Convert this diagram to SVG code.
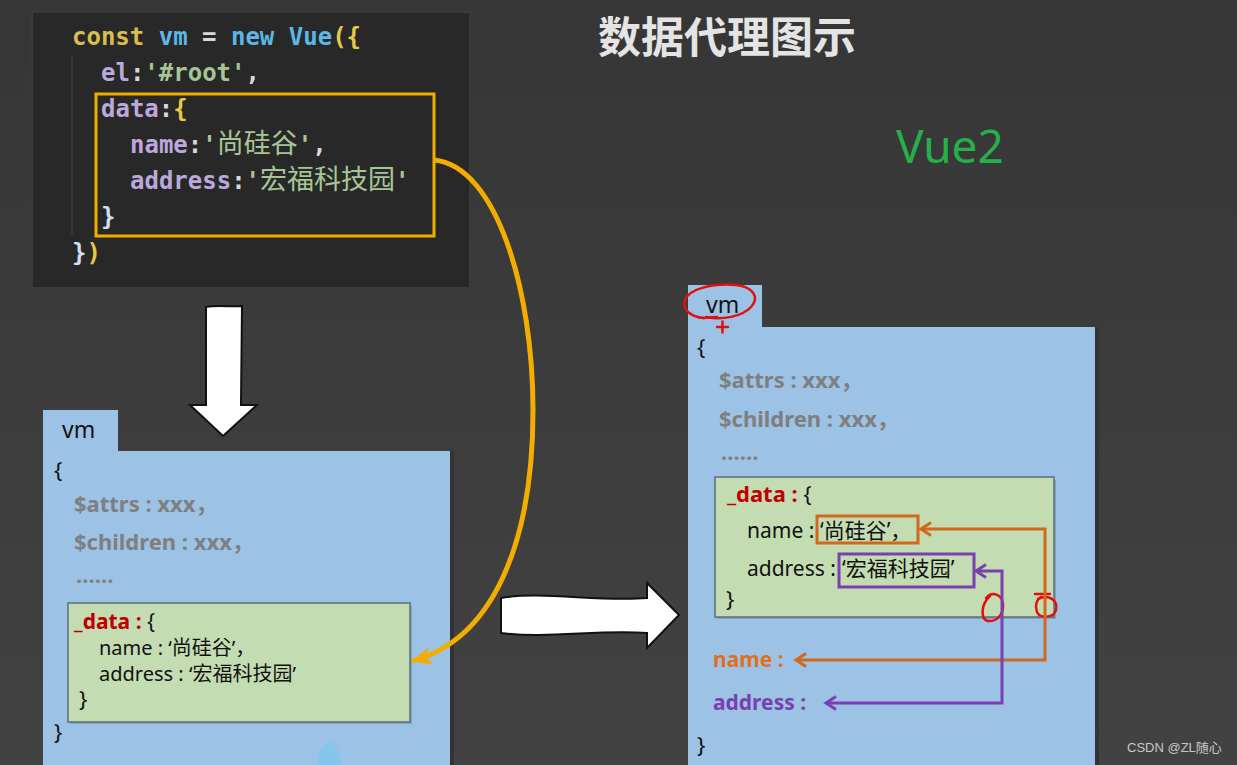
<svg xmlns="http://www.w3.org/2000/svg" width="1237" height="765" viewBox="0 0 1237 765">
<style>
.code{font-family:"DejaVu Sans Mono","Liberation Mono","Noto Sans CJK SC",monospace;font-size:24px;font-weight:bold;white-space:pre}
.cjk{font-size:27px;font-weight:normal}
.k{fill:#d9bd4f}.v{fill:#5cb6e6}.w{fill:#d8d8d8}.p{fill:#bca8dc}.s{fill:#a6c596}.y{fill:#e8c84a}.b{fill:#d0e0f0}
.t{font-family:"Noto Sans","Noto Sans CJK SC",sans-serif;fill:#111}
.n{font-size:21px}
.n2{font-size:20px}
.g{font-size:22px;font-weight:bold;fill:#7f7f7f}
.tab{font-size:23px}
.br{font-size:22px}
.red{fill:#c00000;font-weight:bold}
.blue{fill:#9cc2e5}
.green{fill:#c4dcb2;stroke:#5b6d80;stroke-width:1.5}
.ink{fill:none;stroke:#e01010;stroke-width:2.5;stroke-linecap:round;stroke-linejoin:round}
.bigarrow{fill:#fff;stroke:#111;stroke-width:2;stroke-linejoin:miter}
</style>
<defs>
<linearGradient id="bg" x1="0" y1="0" x2="0" y2="1">
<stop offset="0" stop-color="#363636"/>
<stop offset="1" stop-color="#424242"/>
</linearGradient>
<marker id="mOrangeBig" viewBox="0 0 22 20" refX="20" refY="10" markerWidth="22" markerHeight="20" markerUnits="userSpaceOnUse" orient="auto">
<path d="M0,1 L21,10 L0,19 L6,10 Z" fill="#f2ad00"/>
</marker>
<marker id="mOr" viewBox="0 0 16 16" refX="13" refY="8" markerWidth="16" markerHeight="16" markerUnits="userSpaceOnUse" orient="auto-start-reverse">
<path d="M3,1.5 L13,8 L3,14.5" fill="none" stroke="#d0681f" stroke-width="3"/>
</marker>
<marker id="mPu" viewBox="0 0 16 16" refX="13" refY="8" markerWidth="16" markerHeight="16" markerUnits="userSpaceOnUse" orient="auto-start-reverse">
<path d="M3,1.5 L13,8 L3,14.5" fill="none" stroke="#7a3fb0" stroke-width="3"/>
</marker>
</defs>
<rect width="1237" height="765" fill="url(#bg)"/>

<g id="code-panel">
<rect x="31" y="11" width="440" height="278" fill="#3a3a3a"/>
<rect x="33" y="13" width="436" height="274" fill="#282828"/>
<line x1="72" y1="55" x2="72" y2="234" stroke="#3e3e3e" stroke-width="1.5"/>
<text class="code" x="72" y="45"><tspan class="k">const</tspan><tspan class="v"> vm</tspan><tspan class="w"> = </tspan><tspan class="v">new Vue</tspan><tspan class="y">({</tspan></text>
<text class="code" x="101" y="81"><tspan class="p">el</tspan><tspan class="w">:</tspan><tspan class="s">'#root'</tspan><tspan class="w">,</tspan></text>
<text class="code" x="101" y="117"><tspan class="p">data</tspan><tspan class="w">:</tspan><tspan class="y">{</tspan></text>
<text class="code" x="130" y="153"><tspan class="p">name</tspan><tspan class="w">:</tspan><tspan class="s">'</tspan><tspan class="s cjk">尚硅谷</tspan><tspan class="s">'</tspan><tspan class="w">,</tspan></text>
<text class="code" x="130" y="189"><tspan class="p">address</tspan><tspan class="w">:</tspan><tspan class="s">'</tspan><tspan class="s cjk">宏福科技园</tspan><tspan class="s">'</tspan></text>
<text class="code" x="101" y="225"><tspan class="b">}</tspan></text>
<text class="code" x="72" y="261"><tspan class="b">}</tspan><tspan class="y">)</tspan></text>
<rect x="96" y="94" width="338" height="142" fill="none" stroke="#f2ad00" stroke-width="3"/>
</g>

<g id="title">
<text x="598" y="53" style="font-family:'Noto Sans CJK SC',sans-serif;font-size:43px;font-weight:bold;fill:#e4e4e4">数据代理图示</text>
</g>
<g id="vue2-label">
<text x="896" y="163" style="font-family:'Noto Sans',sans-serif;font-size:46px;fill:#26b04b">Vue2</text>
</g>

<g id="vm-left">
<rect x="450" y="451" width="4" height="314" fill="#333"/>
<rect class="blue" x="43" y="410" width="75" height="42"/>
<rect class="blue" x="43" y="451" width="407" height="314"/>
<path d="M317,765 C318,748 326,742 329,742 C333,742 340,748 341,765 Z" fill="#86c6ec"/>
<text class="t tab" x="62" y="438">vm</text>
<text class="t br" x="54" y="478">{</text>
<text class="t g" x="74" y="512">$attrs : xxx，</text>
<text class="t g" x="74" y="550">$children : xxx，</text>
<text class="t g" x="76" y="583">……</text>
<rect x="70" y="606" width="342" height="118" fill="#5a6a5a" opacity="0.35"/>
<rect class="green" x="68" y="603" width="342" height="119"/>
<text class="t n" x="74" y="629"><tspan class="red">_data : </tspan><tspan>{</tspan></text>
<text class="t n2" x="99" y="655">name : ‘尚硅谷’，</text>
<text class="t n2" x="99" y="681">address : ‘宏福科技园’</text>
<text class="t br" x="79" y="707">}</text>
<text class="t br" x="54" y="740">}</text>
</g>

<g id="vm-right">
<rect x="1095" y="327" width="4" height="438" fill="#333"/>
<rect class="blue" x="688" y="285" width="74" height="43"/>
<rect class="blue" x="688" y="327" width="407" height="438"/>
<text class="t tab" x="706" y="313">vm</text>
<text class="t br" x="697" y="355">{</text>
<text class="t g" x="719" y="388">$attrs : xxx，</text>
<text class="t g" x="719" y="427">$children : xxx，</text>
<text class="t g" x="721" y="460">……</text>
<rect x="717" y="480" width="339" height="139" fill="#5a6a5a" opacity="0.35"/>
<rect class="green" x="715" y="477" width="339" height="140"/>
<text class="t n" x="727" y="502"><tspan class="red" font-size="22">_data : </tspan><tspan>{</tspan></text>
<text class="t n" x="747" y="538">name :</text>
<text class="t n" x="820" y="538">‘尚硅谷’，</text>
<rect x="817" y="516" width="101" height="27" fill="none" stroke="#d0681f" stroke-width="3"/>
<text class="t n" x="747" y="576">address :</text>
<text class="t n" x="842" y="576">‘宏福科技园’</text>
<rect x="839" y="554" width="135" height="33" fill="none" stroke="#7a3fb0" stroke-width="3"/>
<text class="t br" x="726" y="607">}</text>
<text class="t n" x="713" y="667" style="font-weight:bold;fill:#e0701e">name :</text>
<text class="t n" x="713" y="710" style="font-weight:bold;fill:#7a3fb0">address :</text>
<text class="t br" x="697" y="753">}</text>
<path class="ink" d="M704,318 C690,317 682,309 685,300 C689,289 712,283 736,285 C753,287 760,297 751,307 C742,317 722,320 706,317"/>
<path class="ink" d="M703,318 L717,317 M717,327 L728,327 M722.5,321.5 L722.5,332.5"/>
<path class="ink" d="M986,598 C992,591 1002,594 1003,604 C1004,615 996,622 988,621 C980,619 981,604 990,596"/>
<path class="ink" d="M1035,594 L1050,594 M1038,599 C1049,594 1058,600 1056,610 C1054,618 1040,619 1037,612 C1035,606 1036,600 1041,597"/>
</g>

<g id="connectors">
<path d="M434,160 C497,166 533,292 533,410 C533,545 492,640 412,661" fill="none" stroke="#f2ad00" stroke-width="5" marker-end="url(#mOrangeBig)"/>
<path d="M921,529 H1045 V660 H796" fill="none" stroke="#d0681f" stroke-width="3" marker-start="url(#mOr)" marker-end="url(#mOr)"/>
<path d="M976,571 H1002 V703 H826" fill="none" stroke="#7a3fb0" stroke-width="3" marker-start="url(#mPu)" marker-end="url(#mPu)"/>
<path class="bigarrow" d="M206,307 C218,305 230,307 242,306 L241,405 L257,405 L223,436 L190,405 L206,405 Z"/>
<path class="bigarrow" d="M501,598 C540,591 600,602 647,598 L647,583 L679,615 L647,648 L647,633 C600,629 548,639 501,633 Z"/>
</g>

<text x="1127" y="752" style="font-family:'Liberation Sans','Noto Sans CJK SC',sans-serif;font-size:13px;fill:#c8c8c8">CSDN @ZL随心</text>
</svg>
